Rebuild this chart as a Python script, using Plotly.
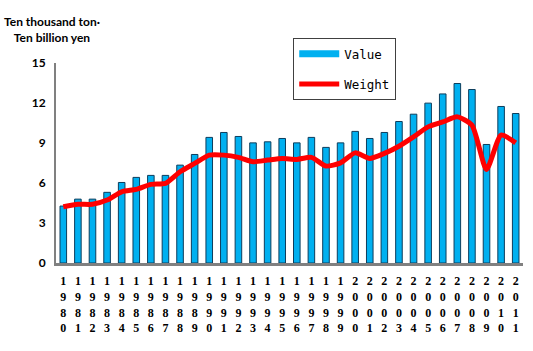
import plotly.graph_objects as go

years = [str(y) for y in range(1980, 2012)]
value = [4.27, 4.79, 4.79, 5.30, 6.04, 6.42, 6.57, 6.57, 7.34, 8.14,
         9.42, 9.79, 9.49, 9.01, 9.09, 9.34, 9.01, 9.42, 8.67, 9.01,
         9.87, 9.34, 9.79, 10.61, 11.16, 11.99, 12.68, 13.46, 13.01, 8.89,
         11.74, 11.21]
weight = [4.22, 4.40, 4.40, 4.72, 5.34, 5.52, 5.90, 5.97, 6.84, 7.47,
          8.09, 8.09, 7.92, 7.59, 7.72, 7.84, 7.77, 7.92, 7.27, 7.51,
          8.26, 7.84, 8.22, 8.76, 9.46, 10.21, 10.58, 10.96, 10.34, 7.02,
          9.59, 9.01]
tick_labels = ["<br>".join(list(y)) for y in years]
y_ticks = [0, 3, 6, 9, 12, 15]

fig = go.Figure()
fig.add_trace(go.Bar(
    x=years, y=value, name="Value", showlegend=False,
    marker=dict(color="#00B0F0", line=dict(color="#0d3d5c", width=1)),
))
# legend proxy giving the wide rectangular swatch of the original
fig.add_trace(go.Scatter(
    x=[None], y=[None], name="Value", legendgroup="a", mode="lines",
    line=dict(color="#00B0F0", width=7),
))
fig.add_trace(go.Scatter(
    x=years, y=weight, name="Weight", legendgroup="b", mode="lines",
    line=dict(color="#FF0000", width=5, shape="spline", smoothing=0.6),
))

fig.update_layout(
    width=533, height=351,
    margin=dict(l=56, r=10, t=63, b=88),
    paper_bgcolor="white", plot_bgcolor="white",
    bargap=0.55,
    showlegend=True,
    legend=dict(
        x=0.508, y=1.125, xanchor="left", yanchor="top",
        bgcolor="white", bordercolor="#404040", borderwidth=1,
        font=dict(family="DejaVu Sans Mono", size=12.5, color="black"),
        tracegroupgap=11, itemwidth=40,
    ),
    xaxis=dict(
        tickmode="array", tickvals=years, ticktext=tick_labels,
        tickangle=0, showline=True, linecolor="#808080", linewidth=3,
        ticks="", showgrid=False, ticklabelstandoff=5,
        tickfont=dict(family="Liberation Serif", size=12, color="black", weight="bold"),
    ),
    yaxis=dict(
        range=[0, 15], tickvals=y_ticks, showline=True, linecolor="#808080",
        linewidth=2, ticks="", showgrid=False, zeroline=False,
        tickfont=dict(family="Lato", size=12, color="black", weight="bold"),
        ticklabelstandoff=6,
    ),
    annotations=[dict(
        text="Ten thousand ton·<br>Ten billion yen", xref="paper", yref="paper",
        x=-0.008, y=1.165, xanchor="center", yanchor="middle", showarrow=False,
        font=dict(family="Lato", size=12, color="black", weight="bold"),
    )],
)

fig.write_html("out.html")
